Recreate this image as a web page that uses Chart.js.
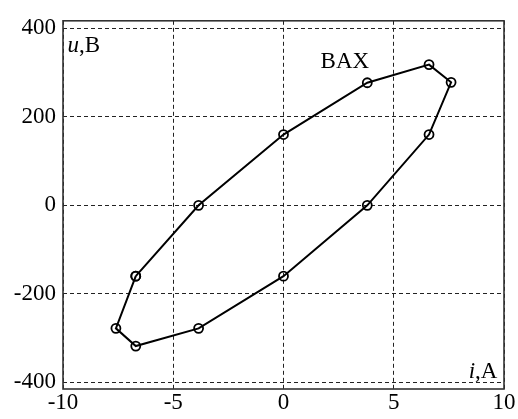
<!DOCTYPE html>
<html>
<head>
<meta charset="utf-8">
<script src="https://cdn.jsdelivr.net/npm/chart.js@4/dist/chart.umd.min.js"></script>
<style>
  html, body { margin: 0; padding: 0; background: #fff; }
  #wrap { width: 518px; height: 419px; }
</style>
</head>
<body>
<div id="wrap"><canvas id="chart"></canvas></div>
<script>
// loop data: current (A) and voltage (V)
const currentA = [-6.7, -3.85, 0, 3.8, 6.6, 7.6, 6.6, 3.8, 0, -3.85, -6.7, -7.6, -6.7];
const voltageV = [-160, 0, 160, 277, 318, 278, 160, 0, -160, -278, -318, -278, -160];

const xTicks = [-10, -5, 0, 5, 10];
const yTicks = [-400, -200, 0, 200, 400];

const FONT = '"Liberation Serif", "Times New Roman", serif';
const SIZE = 23;

// box round the plot area
const boxPlugin = {
    id: 'box',
    afterDatasetsDraw(chart) {
        const { ctx, chartArea: a } = chart;
        ctx.save();
        ctx.strokeStyle = '#333';
        ctx.lineWidth = 1.6;
        ctx.strokeRect(a.left, a.top, a.right - a.left, a.bottom - a.top);
        ctx.restore();
    }
};

// axis names and curve label, placed in data units
const labelPlugin = {
    id: 'labels',
    afterDraw(chart) {
        const { ctx } = chart;
        const xs = chart.scales.x, ys = chart.scales.y;
        ctx.save();
        ctx.fillStyle = '#000';
        ctx.textBaseline = 'alphabetic';

        // two-part text: italic symbol then normal unit
        const pair = (sym, unit, x, y, alignRight) => {
            ctx.font = 'italic ' + SIZE + 'px ' + FONT;
            const w1 = ctx.measureText(sym).width;
            ctx.font = SIZE + 'px ' + FONT;
            const w2 = ctx.measureText(unit).width;
            let px = xs.getPixelForValue(x);
            const py = ys.getPixelForValue(y);
            if (alignRight) px -= (w1 + w2);
            ctx.textAlign = 'left';
            ctx.font = 'italic ' + SIZE + 'px ' + FONT;
            ctx.fillText(sym, px, py);
            ctx.font = SIZE + 'px ' + FONT;
            ctx.fillText(unit, px + w1, py);
        };
        pair('u', ',B', -9.8, 347, false);
        pair('i', ',A', 9.7, -390, true);

        ctx.font = SIZE + 'px ' + FONT;
        ctx.textAlign = 'left';
        ctx.fillText('BAX', xs.getPixelForValue(1.68), ys.getPixelForValue(310));
        ctx.restore();
    }
};

const gridOpts = {
    color: '#222',
    lineWidth: 1,
    drawTicks: false,
    borderDash: [4, 3]
};

new Chart(document.getElementById('chart'), {
    type: 'scatter',
    data: {
        datasets: [{
            data: currentA.map((v, i) => ({ x: v, y: voltageV[i] })),
            showLine: true,
            borderColor: '#000',
            borderWidth: 2,
            pointRadius: 4.5,
            pointBorderWidth: 1.8,
            pointBorderColor: '#000',
            pointBackgroundColor: 'rgba(0,0,0,0)',
            tension: 0
        }]
    },
    options: {
        responsive: true,
        maintainAspectRatio: false,
        animation: false,
        layout: { padding: { top: 15, right: 14, left: 0, bottom: 0 } },
        plugins: { legend: { display: false }, tooltip: { enabled: false } },
        scales: {
            x: {
                type: 'linear',
                min: -10,
                max: 10,
                afterBuildTicks: s => { s.ticks = xTicks.map(v => ({ value: v })); },
                afterFit: s => { s.height = 30; },
                ticks: {
                    color: '#000',
                    font: { family: FONT, size: SIZE },
                    padding: 0,
                    maxRotation: 0
                },
                grid: gridOpts,
                border: { display: false, dash: [4, 3] }
            },
            y: {
                type: 'linear',
                min: -415,
                max: 417,
                afterBuildTicks: s => { s.ticks = yTicks.map(v => ({ value: v })); },
                afterFit: s => { s.width = 63; },
                ticks: {
                    color: '#000',
                    font: { family: FONT, size: SIZE },
                    padding: 7
                },
                grid: gridOpts,
                border: { display: false, dash: [4, 3] }
            }
        }
    },
    plugins: [boxPlugin, labelPlugin]
});
</script>
</body>
</html>
